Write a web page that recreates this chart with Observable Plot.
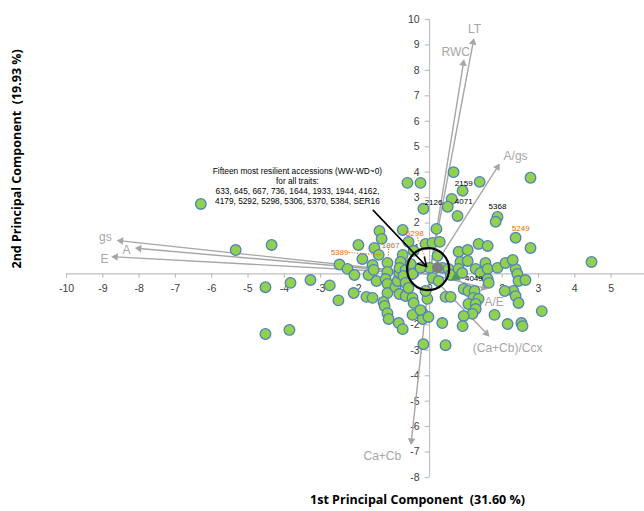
<!DOCTYPE html>
<html><head><meta charset="utf-8">
<script src="https://cdn.jsdelivr.net/npm/d3@7"></script>
<script src="https://cdn.jsdelivr.net/npm/@observablehq/plot@0.6"></script>
<style>body{margin:0;background:#fff;}</style>
</head><body><div id="chart"></div>
<script>
// accession scores on PC1 / PC2
const pcX = [-6.30,-5.34,-4.35,-4.52,-3.83,-3.28,-4.52,-3.86,
 -2.75,-2.51,-2.48,-2.26,-2.07,-2.09,-1.96,-1.85,-1.74,-1.57,-1.68,-1.57,-1.54,-1.46,-1.52,-1.40,-1.38,-1.32,
 -1.16,-1.16,-1.21,-1.16,-1.16,-1.27,-1.24,-1.16,-1.13,-0.94,-0.88,-0.83,-0.74,-0.80,-0.83,-0.66,-0.72,-0.66,
 -0.83,-0.66,-0.47,-0.44,-0.85,-0.74,-0.47,-0.19,-0.19,-0.06,-0.25,-0.58,-0.44,-0.11,-0.74,-0.52,-0.47,-0.58,
 -0.11,0.08,0.00,0.35,-0.17,0.44,-0.25,
 0.66,-0.61,-0.25,0.91,1.38,0.61,0.50,-0.17,0.77,1.87,1.82,2.78,2.37,2.78,0.19,
 0.08,0.28,0.22,0.36,0.52,0.25,0.58,0.80,1.05,1.35,1.60,0.85,1.05,0.80,0.90,1.27,1.40,1.54,1.60,1.60,1.63,
 1.87,2.09,2.37,2.42,2.45,2.64,2.31,2.37,2.07,2.45,3.09,0.94,1.07,1.24,1.21,1.35,1.07,1.27,1.27,1.18,0.94,
 0.91,0.44,0.58,1.79,2.15,2.53,2.56,-0.03,4.46,2.29];
const pcY = [2.75,0.94,1.14,-0.52,-0.35,-0.24,-2.36,-2.20,
 -0.45,-1.04,0.37,0.20,-0.04,-0.75,1.14,0.59,-0.90,-0.94,-0.04,0.35,0.16,-0.28,1.02,0.75,1.69,1.38,
 0.43,0.08,-0.20,-0.39,-0.75,-1.10,-1.26,-1.54,-1.77,-0.51,-0.28,0.04,0.75,0.47,0.24,0.16,-0.08,-0.35,
 -0.79,-0.87,-0.94,-1.14,-1.93,-2.17,-1.61,-1.54,-1.77,-0.98,-1.42,1.26,0.91,1.18,1.73,0.39,0.00,-0.55,
 -0.67,-0.16,0.24,-1.93,-2.76,-2.80,0.24,
 4.00,3.58,3.58,3.27,3.62,2.95,2.64,2.56,2.28,2.24,2.05,3.78,1.42,1.02,1.77,
 1.22,1.26,0.71,0.24,0.20,-0.28,-0.04,0.87,0.94,1.18,1.10,0.47,0.51,0.20,0.04,0.20,0.04,0.43,0.20,-0.20,-0.35,
 0.24,0.43,0.20,0.00,-0.28,-0.24,-0.67,-0.87,-0.67,-1.14,-1.46,-0.59,-0.67,-0.67,-0.94,-0.98,-1.18,-1.18,-1.38,-1.57,-1.65,
 -2.05,-0.90,-0.90,-1.61,-1.97,-1.93,-2.05,-1.69,0.47,0.55];

// trait loading vectors
const traitNames = ["gs","A","E","RWC","LT","A/gs","A/E","(Ca+Cb)/Ccx","Ca+Cb"];
const traitX = [-8.50,-8.00,-8.65,0.93,1.20,1.87,1.49,1.57,-0.50];
const traitY = [1.30,1.00,0.67,8.27,9.10,4.20,-0.55,-2.34,-6.55];
const traitLabelX = [-8.93,-8.35,-8.95,0.72,1.24,2.37,1.78,2.15,-1.30];
const traitLabelY = [1.46,0.92,0.60,8.70,9.64,4.64,-1.12,-2.90,-7.16];

// labelled accessions
const blackIds = ["2159","2126","4071","5368","4049"];
const blackX = [0.94,0.11,0.94,1.87,1.22];
const blackY = [3.56,2.81,2.85,2.65,-0.17];
const orangeIds = ["5389","1867","5298","5249"];
const orangeX = [-2.48,-1.07,-0.41,2.51];
const orangeY = [0.84,1.12,1.59,1.79];
const leaderX1 = [-2.23,-1.13,-0.33];
const leaderY1 = [0.84,0.99,1.43];
const leaderX2 = [-1.35,-1.13,-0.11];
const leaderY2 = [0.76,0.60,0.60];

// special markers
const meanX = [0.22], meanY = [0.25];
const triX = [0.72], triY = [-0.14];
const ringX = [-0.04], ringY = [0.19];
const noteArrow = {x1: -1.55, y1: 2.50, x2: -0.08, y2: 0.29};
const noteText = "Fifteen most resilient accessions (WW-WD~0)\nfor all traits:\n633, 645, 667, 736, 1644, 1933, 1944, 4162,\n4179, 5292, 5298, 5306, 5370, 5384, SER16";
const noteX = -3.64, noteY = 3.47;

const xTicks = [-10,-9,-8,-7,-6,-5,-4,-3,-2,-1,0,1,2,3,4,5];
const yTicks = [-8,-7,-6,-5,-4,-3,-2,-1,0,1,2,3,4,5,6,7,8,9,10];
const xDomain = [-10, 5.92], yDomain = [-8, 10];

const W = 644, H = 511, mL = 66, mR = 0, mT = 19, mB = 34;
const kx = (W - mL - mR) / (xDomain[1] - xDomain[0]);
const ky = (H - mT - mB) / (yDomain[1] - yDomain[0]);

const points = pcX.map((x, i) => ({x, y: pcY[i]}));
const traits = traitNames.map((name, i) => ({name, x: traitX[i], y: traitY[i], lx: traitLabelX[i], ly: traitLabelY[i],
  rot: Math.atan2(traitX[i] * kx, traitY[i] * ky) * 180 / Math.PI}));
const blacks = blackIds.map((t, i) => ({t, x: blackX[i], y: blackY[i]}));
const oranges = orangeIds.map((t, i) => ({t, x: orangeX[i], y: orangeY[i]}));
const leaders = leaderX1.map((x1, i) => ({x1, y1: leaderY1[i], x2: leaderX2[i], y2: leaderY2[i]}));

const axisColor = "#bfbfbf", tickText = "#404040", traitColor = "#a6a6a6";
const labFont = "Liberation Sans, Arial, sans-serif";

const chart = Plot.plot({
  width: W, height: H,
  marginLeft: mL, marginRight: mR, marginTop: mT, marginBottom: mB,
  x: {domain: xDomain, axis: null},
  y: {domain: yDomain, axis: null},
  style: {fontFamily: labFont, background: "#fff", overflow: "visible"},
  marks: [
    // axes
    Plot.ruleY([0], {x1: xDomain[0], x2: xDomain[1], stroke: axisColor, strokeWidth: 1.2}),
    Plot.ruleX([0], {y1: yDomain[0], y2: yDomain[1], stroke: axisColor, strokeWidth: 1.2}),
    Plot.ruleX(xTicks, {x: d => d, y1: 0, y2: -0.17, stroke: axisColor, strokeWidth: 1.2}),
    Plot.ruleY(yTicks, {y: d => d, x1: -0.12, x2: 0, stroke: axisColor, strokeWidth: 1.2}),
    Plot.text(xTicks, {x: d => d, y: 0, dy: 15, text: d => String(d), fill: tickText, fontSize: 10.5}),
    Plot.text(yTicks, {x: 0, y: d => d, dx: -10, text: d => String(d), textAnchor: "end", fill: tickText, fontSize: 10.5}),
    // trait vectors
    Plot.link(traits, {x1: 0, y1: 0, x2: "x", y2: "y", stroke: traitColor, strokeWidth: 1.4}),
    Plot.dot(traits, {x: "x", y: "y", symbol: "triangle2", r: 3.6, rotate: "rot", fill: traitColor, stroke: "none"}),
    // accessions
    Plot.dot(points, {x: "x", y: "y", r: 5.3, fill: "#92d050", stroke: "#4f81bd", strokeWidth: 1.3}),
    Plot.dot(meanX.map((x, i) => ({x, y: meanY[i]})), {x: "x", y: "y", r: 4.8, fill: "#7f7f7f", stroke: "#7f7f7f"}),
    Plot.dot(triX.map((x, i) => ({x, y: triY[i]})), {x: "x", y: "y", symbol: "triangle2", r: 5, fill: "#4e9a63", stroke: "none"}),
    // trait labels
    Plot.text(traits, {x: "lx", y: "ly", text: "name", fill: traitColor, fontSize: 12}),
    // labelled accessions
    Plot.link(leaders, {x1: "x1", y1: "y1", x2: "x2", y2: "y2", stroke: "#e46c0a", strokeWidth: 1.1, strokeDasharray: "1.2,1.6"}),
    Plot.text(blacks, {x: "x", y: "y", text: "t", fill: "#000", fontSize: 8}),
    Plot.text(oranges, {x: "x", y: "y", text: "t", fill: "#e46c0a", fontSize: 8}),
    // highlight ring and annotation
    Plot.dot(ringX.map((x, i) => ({x, y: ringY[i]})), {x: "x", y: "y", r: 21, fill: "none", stroke: "#000", strokeWidth: 2.2}),
    Plot.arrow([noteArrow], {x1: "x1", y1: "y1", x2: "x2", y2: "y2", stroke: "#000", strokeWidth: 1.6, headLength: 9}),
    Plot.text([noteText], {x: noteX, y: noteY, text: d => d, fontSize: 8.3, lineHeight: 1.2, fill: "#000",
      fontFamily: "Liberation Sans Narrow, Liberation Sans, Arial, sans-serif"}),
    // axis titles
    Plot.text(["1st Principal Component  (31.60 %)"], {frameAnchor: "bottom", dx: 62, dy: 26, text: d => d,
      fontSize: 12.5, fontWeight: "bold", fill: "#000", fontFamily: "Open Sans, sans-serif"}),
    Plot.text(["2nd Principal Component  (19.93 %)"], {frameAnchor: "left", dx: -50, dy: 20, rotate: -90, text: d => d,
      fontSize: 12.5, fontWeight: "bold", fill: "#000", fontFamily: "Open Sans, sans-serif"})
  ]
});
document.getElementById("chart").appendChild(chart);
</script>
</body></html>
